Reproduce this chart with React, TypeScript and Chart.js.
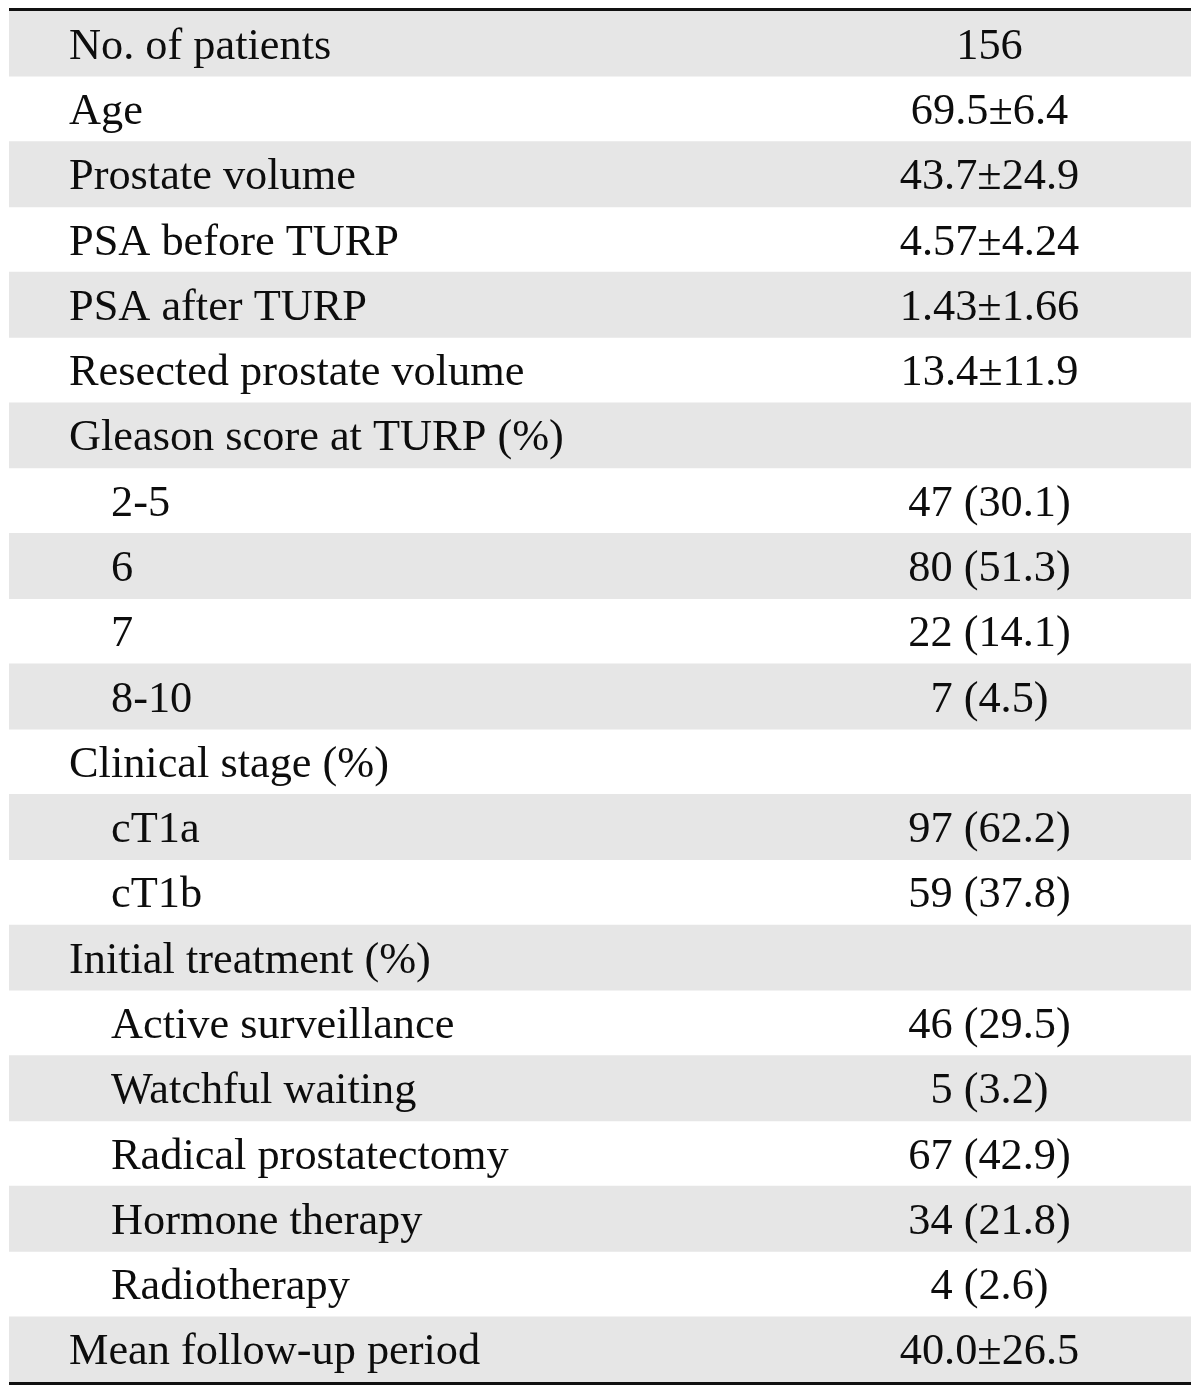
import React, { useEffect, useRef } from "react";
import { Chart, registerables } from "chart.js";

Chart.register(...registerables);

const rowLabels: string[] = [
  "No. of patients",
  "Age",
  "Prostate volume",
  "PSA before TURP",
  "PSA after TURP",
  "Resected prostate volume",
  "Gleason score at TURP (%)",
  "2-5",
  "6",
  "7",
  "8-10",
  "Clinical stage (%)",
  "cT1a",
  "cT1b",
  "Initial treatment (%)",
  "Active surveillance",
  "Watchful waiting",
  "Radical prostatectomy",
  "Hormone therapy",
  "Radiotherapy",
  "Mean follow-up period",
];

const rowIndented: boolean[] = [
  false, false, false, false, false, false, false,
  true, true, true, true,
  false, true, true,
  false, true, true, true, true, true,
  false,
];

const rowValues: string[] = [
  "156",
  "69.5±6.4",
  "43.7±24.9",
  "4.57±4.24",
  "1.43±1.66",
  "13.4±11.9",
  "",
  "47 (30.1)",
  "80 (51.3)",
  "22 (14.1)",
  "7 (4.5)",
  "",
  "97 (62.2)",
  "59 (37.8)",
  "",
  "46 (29.5)",
  "5 (3.2)",
  "67 (42.9)",
  "34 (21.8)",
  "4 (2.6)",
  "40.0±26.5",
];

const rowShaded: (number | null)[] = rowLabels.map((_, i) => (i % 2 === 0 ? 1 : null));

const FONT = '45px "Liberation Serif", "Times New Roman", serif';

const tablePlugin = {
  id: "tableText",
  afterDatasetsDraw(chart: any) {
    const { ctx, chartArea } = chart;
    const y = chart.scales.y;
    const x = chart.scales.x;
    ctx.save();
    ctx.fillStyle = "#0d0d0d";
    ctx.font = FONT;
    ctx.textBaseline = "alphabetic";
    const sx = 0.985;
    rowLabels.forEach((lab, i) => {
      const cy = y.getPixelForValue(i);
      const by = cy + 15;
      const lx = rowIndented[i] ? 111 : 69;
      ctx.save();
      ctx.translate(lx, by);
      ctx.scale(sx, 1);
      ctx.textAlign = "left";
      ctx.fillText(lab, 0, 0);
      ctx.restore();
      if (rowValues[i]) {
        ctx.save();
        ctx.translate(x.getPixelForValue(0.8295), by);
        ctx.scale(sx, 1);
        ctx.textAlign = "center";
        ctx.fillText(rowValues[i], 0, 0);
        ctx.restore();
      }
    });
    // top and bottom rules
    ctx.strokeStyle = "#111111";
    ctx.lineWidth = 3;
    ctx.beginPath();
    ctx.moveTo(chartArea.left, chartArea.top - 1.5);
    ctx.lineTo(chartArea.right, chartArea.top - 1.5);
    ctx.moveTo(chartArea.left, chartArea.bottom + 1.5);
    ctx.lineTo(chartArea.right, chartArea.bottom + 1.5);
    ctx.stroke();
    ctx.restore();
  },
};

export default function App() {
  const ref = useRef<HTMLCanvasElement | null>(null);
  useEffect(() => {
    if (!ref.current) return;
    const chart = new Chart(ref.current, {
      type: "bar",
      data: {
        labels: rowLabels,
        datasets: [
          {
            data: rowShaded as any,
            backgroundColor: "#e6e6e6",
            borderWidth: 0,
            barPercentage: 1,
            categoryPercentage: 1,
          },
        ],
      },
      options: {
        indexAxis: "y",
        responsive: false,
        animation: false,
        events: [],
        layout: { padding: { left: 9, right: 9, top: 11, bottom: 12 } },
        plugins: {
          legend: { display: false },
          tooltip: { enabled: false },
          title: { display: false },
        },
        scales: {
          x: { type: "linear", min: 0, max: 1, display: false },
          y: { type: "category", display: false, offset: true },
        },
      },
      plugins: [tablePlugin],
    });
    return () => chart.destroy();
  }, []);
  return (
    <div style={{ position: "absolute", left: 0, top: 0, width: 1200, height: 1394, background: "#fff" }}>
      <canvas ref={ref} width={1200} height={1394} style={{ display: "block" }} />
    </div>
  );
}
